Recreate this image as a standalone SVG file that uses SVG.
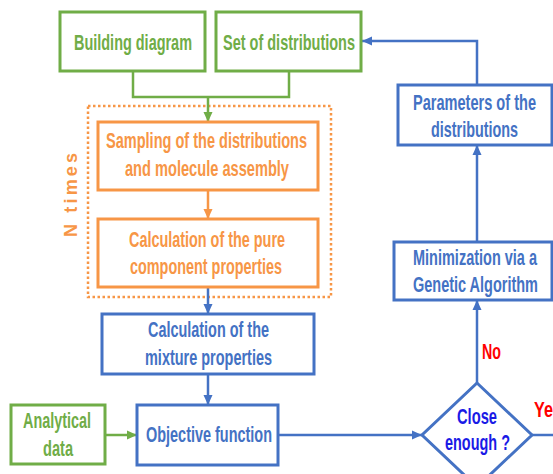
<svg xmlns="http://www.w3.org/2000/svg" width="553" height="474" viewBox="0 0 553 474">
<style>
text{font-family:"Liberation Sans Narrow","Liberation Sans",Arial,sans-serif;font-weight:bold;font-size:22px;text-anchor:middle}
.g rect{fill:#fff;stroke:#70AD47;stroke-width:3}
.o rect{fill:#fff;stroke:#F79646;stroke-width:3}
.b rect{fill:#fff;stroke:#4472C4;stroke-width:3}
.g text{fill:#70AD47}
.o text{fill:#F79646}
.b text{fill:#4472C4}
.cg{fill:none;stroke:#70AD47;stroke-width:2.5}
.co{fill:none;stroke:#F79646;stroke-width:2.5}
.cb{fill:none;stroke:#4472C4;stroke-width:2.5}
</style>
<defs>
<marker id="ag" markerUnits="userSpaceOnUse" markerWidth="10" markerHeight="10" viewBox="0 0 10 10" refX="10" refY="5" orient="auto"><path d="M0,0.5 L10,5 L0,9.5 z" fill="#70AD47"/></marker>
<marker id="ao" markerUnits="userSpaceOnUse" markerWidth="10" markerHeight="10" viewBox="0 0 10 10" refX="10" refY="5" orient="auto"><path d="M0,0.5 L10,5 L0,9.5 z" fill="#F79646"/></marker>
<marker id="ab" markerUnits="userSpaceOnUse" markerWidth="10" markerHeight="10" viewBox="0 0 10 10" refX="10" refY="5" orient="auto"><path d="M0,0.5 L10,5 L0,9.5 z" fill="#4472C4"/></marker>
</defs>
<rect width="553" height="474" fill="#fff"/>

<g id="ntimes">
<rect x="88" y="106" width="243" height="191" fill="none" stroke="#F79646" stroke-width="2.5" stroke-dasharray="2.5 2.5"/>
<text transform="translate(77,195) rotate(-90)" style="font-family:'Liberation Sans',Arial,sans-serif;font-size:18px;fill:#F79646" textLength="84" lengthAdjust="spacing">N times</text>
</g>

<g id="connectors">
<path class="cg" d="M133,71 V97 H289 V71"/>
<path class="cg" d="M208,97 V122" marker-end="url(#ag)"/>
<path class="co" d="M208,190 V219" marker-end="url(#ao)"/>
<path class="cb" d="M208,287 V314" marker-end="url(#ab)"/>
<path class="cb" d="M208,374 V405" marker-end="url(#ab)"/>
<path class="cg" d="M105,435 H137" marker-end="url(#ag)"/>
<path class="cb" d="M278,435 H422" marker-end="url(#ab)"/>
<path class="cb" d="M477,383 V300" marker-end="url(#ab)"/>
<path class="cb" d="M477,242 V145" marker-end="url(#ab)"/>
<path class="cb" d="M477,85 V41 H362" marker-end="url(#ab)"/>
<path class="cb" d="M532,435 H553"/>
<text x="491.5" y="359" style="fill:#FF0000" textLength="19" lengthAdjust="spacingAndGlyphs">No</text>
<text x="534" y="417" style="fill:#FF0000;text-anchor:start" textLength="28" lengthAdjust="spacingAndGlyphs">Yes</text>
</g>

<g id="building" class="g">
<rect x="60" y="12" width="145" height="59"/>
<text x="133" y="50" textLength="118" lengthAdjust="spacingAndGlyphs">Building diagram</text>
</g>
<g id="setdist" class="g">
<rect x="216" y="12" width="145" height="59"/>
<text x="289" y="50" textLength="132" lengthAdjust="spacingAndGlyphs">Set of distributions</text>
</g>
<g id="sampling" class="o">
<rect x="98" y="122" width="220" height="68"/>
<text x="206.5" y="148" textLength="201" lengthAdjust="spacingAndGlyphs">Sampling of the distributions</text>
<text x="207" y="176" textLength="164" lengthAdjust="spacingAndGlyphs">and molecule assembly</text>
</g>
<g id="pure" class="o">
<rect x="98" y="219" width="220" height="68"/>
<text x="207" y="247" textLength="156" lengthAdjust="spacingAndGlyphs">Calculation of the pure</text>
<text x="206" y="274" textLength="152" lengthAdjust="spacingAndGlyphs">component properties</text>
</g>
<g id="mixture" class="b">
<rect x="102" y="314" width="212" height="60"/>
<text x="208.5" y="337" textLength="121" lengthAdjust="spacingAndGlyphs">Calculation of the</text>
<text x="208.5" y="365" textLength="127" lengthAdjust="spacingAndGlyphs">mixture properties</text>
</g>
<g id="analytical" class="g">
<rect x="11" y="405" width="94" height="59"/>
<text x="57" y="428" textLength="68" lengthAdjust="spacingAndGlyphs">Analytical</text>
<text x="58" y="456" textLength="30" lengthAdjust="spacingAndGlyphs">data</text>
</g>
<g id="objective" class="b">
<rect x="137" y="405" width="141" height="60"/>
<text x="209" y="442" textLength="126" lengthAdjust="spacingAndGlyphs">Objective function</text>
</g>
<g id="parameters" class="b">
<rect x="398" y="85" width="154" height="60"/>
<text x="474.5" y="110" textLength="123" lengthAdjust="spacingAndGlyphs">Parameters of the</text>
<text x="474.5" y="137" textLength="87" lengthAdjust="spacingAndGlyphs">distributions</text>
</g>
<g id="minimization" class="b">
<rect x="394" y="242" width="158" height="58"/>
<text x="475" y="265" textLength="124" lengthAdjust="spacingAndGlyphs">Minimization via a</text>
<text x="475.5" y="292" textLength="125" lengthAdjust="spacingAndGlyphs">Genetic Algorithm</text>
</g>
<g id="decision">
<path d="M477,383 L532,435 L477,487 L422,435 z" fill="#fff" stroke="#4472C4" stroke-width="3"/>
<text x="477" y="424" style="fill:#1A1AE6" textLength="40" lengthAdjust="spacingAndGlyphs">Close</text>
<text x="477.5" y="450" style="fill:#1A1AE6" textLength="65" lengthAdjust="spacingAndGlyphs">enough ?</text>
</g>
</svg>
